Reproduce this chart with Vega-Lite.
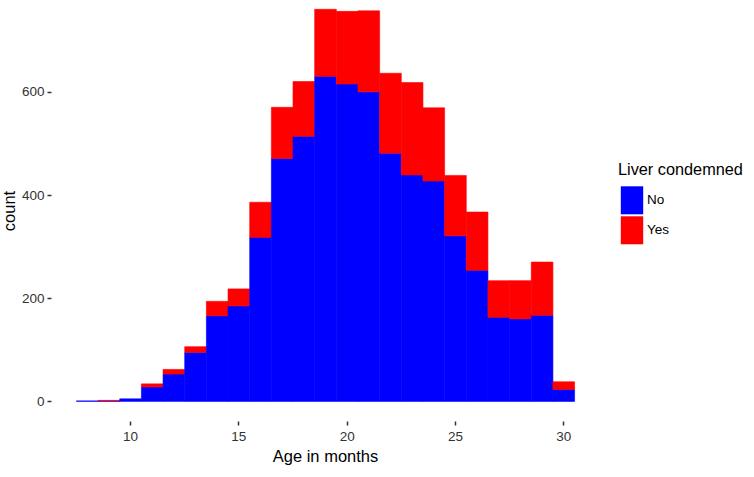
{
  "$schema": "https://vega.github.io/schema/vega-lite/v6.json",
  "autosize": {"type": "none"},
  "padding": {"left": 51, "top": 0, "right": 155, "bottom": 56},
  "width": 548,
  "height": 421,
  "background": "white",
  "config": {
    "view": {"stroke": null},
    "font": "Liberation Sans"
  },
  "data": {
    "values": [
      {"age": 8, "liver": "No", "n": 1},
      {"age": 9, "liver": "No", "n": 1},
      {"age": 9, "liver": "Yes", "n": 1},
      {"age": 10, "liver": "No", "n": 5},
      {"age": 11, "liver": "No", "n": 28},
      {"age": 11, "liver": "Yes", "n": 6},
      {"age": 12, "liver": "No", "n": 53},
      {"age": 12, "liver": "Yes", "n": 9},
      {"age": 13, "liver": "No", "n": 95},
      {"age": 13, "liver": "Yes", "n": 11},
      {"age": 14, "liver": "No", "n": 166},
      {"age": 14, "liver": "Yes", "n": 28},
      {"age": 15, "liver": "No", "n": 185},
      {"age": 15, "liver": "Yes", "n": 33},
      {"age": 16, "liver": "No", "n": 318},
      {"age": 16, "liver": "Yes", "n": 68},
      {"age": 17, "liver": "No", "n": 471},
      {"age": 17, "liver": "Yes", "n": 99},
      {"age": 18, "liver": "No", "n": 514},
      {"age": 18, "liver": "Yes", "n": 106},
      {"age": 19, "liver": "No", "n": 630},
      {"age": 19, "liver": "Yes", "n": 130},
      {"age": 20, "liver": "No", "n": 615},
      {"age": 20, "liver": "Yes", "n": 141},
      {"age": 21, "liver": "No", "n": 600},
      {"age": 21, "liver": "Yes", "n": 157},
      {"age": 22, "liver": "No", "n": 481},
      {"age": 22, "liver": "Yes", "n": 155},
      {"age": 23, "liver": "No", "n": 439},
      {"age": 23, "liver": "Yes", "n": 179},
      {"age": 24, "liver": "No", "n": 427},
      {"age": 24, "liver": "Yes", "n": 142},
      {"age": 25, "liver": "No", "n": 321},
      {"age": 25, "liver": "Yes", "n": 117},
      {"age": 26, "liver": "No", "n": 254},
      {"age": 26, "liver": "Yes", "n": 113},
      {"age": 27, "liver": "No", "n": 163},
      {"age": 27, "liver": "Yes", "n": 71},
      {"age": 28, "liver": "No", "n": 160},
      {"age": 28, "liver": "Yes", "n": 74},
      {"age": 29, "liver": "No", "n": 167},
      {"age": 29, "liver": "Yes", "n": 103},
      {"age": 30, "liver": "No", "n": 23},
      {"age": 30, "liver": "Yes", "n": 15}
    ]
  },
  "mark": {"type": "bar", "binSpacing": 0, "strokeWidth": 0.6},
  "encoding": {
    "x": {
      "field": "age",
      "type": "quantitative",
      "bin": {"step": 1, "extent": [7.5, 30.5], "anchor": 0.5, "nice": false},
      "scale": {"domain": [6.35, 31.65], "nice": false},
      "axis": {
        "title": "Age in months",
        "values": [10, 15, 20, 25, 30],
        "format": "d",
        "grid": false,
        "domain": false,
        "tickSize": 4,
        "tickWidth": 1.5,
        "tickColor": "#333333",
        "labelColor": "#333333",
        "labelFontSize": 13.5,
        "labelPadding": 4,
        "titleFontSize": 16.5,
        "titleFontWeight": "normal",
        "titleColor": "black",
        "titlePadding": 6
      }
    },
    "y": {
      "aggregate": "sum",
      "field": "n",
      "type": "quantitative",
      "stack": "zero",
      "scale": {"domain": [-38, 778], "nice": false, "zero": false},
      "axis": {
        "title": "count",
        "values": [0, 200, 400, 600],
        "grid": false,
        "domain": false,
        "tickSize": 4,
        "tickWidth": 1.5,
        "tickColor": "#333333",
        "labelColor": "#333333",
        "labelFontSize": 13.5,
        "labelPadding": 3,
        "titleFontSize": 16.5,
        "titleFontWeight": "normal",
        "titleColor": "black",
        "titlePadding": 4
      }
    },
    "color": {
      "field": "liver",
      "type": "nominal",
      "scale": {"domain": ["No", "Yes"], "range": ["#0000ff", "#ff0000"]},
      "legend": {
        "title": "Liver condemned",
        "orient": "none",
        "legendX": 567,
        "legendY": 162,
        "titleFontSize": 16.3,
        "titleFontWeight": "normal",
        "titleColor": "black",
        "titlePadding": 8,
        "labelFontSize": 13.5,
        "labelColor": "black",
        "labelOffset": 1,
        "symbolType": "M-0.8,-1H0.8V1H-0.8Z",
        "symbolSize": 784,
        "symbolStrokeWidth": 0,
        "symbolOpacity": 1,
        "rowPadding": 2
      }
    },
    "stroke": {
      "field": "liver",
      "type": "nominal",
      "scale": {"domain": ["No", "Yes"], "range": ["#0000ff", "#ff0000"]},
      "legend": null
    },
    "order": {"field": "liver", "sort": "ascending"}
  }
}
